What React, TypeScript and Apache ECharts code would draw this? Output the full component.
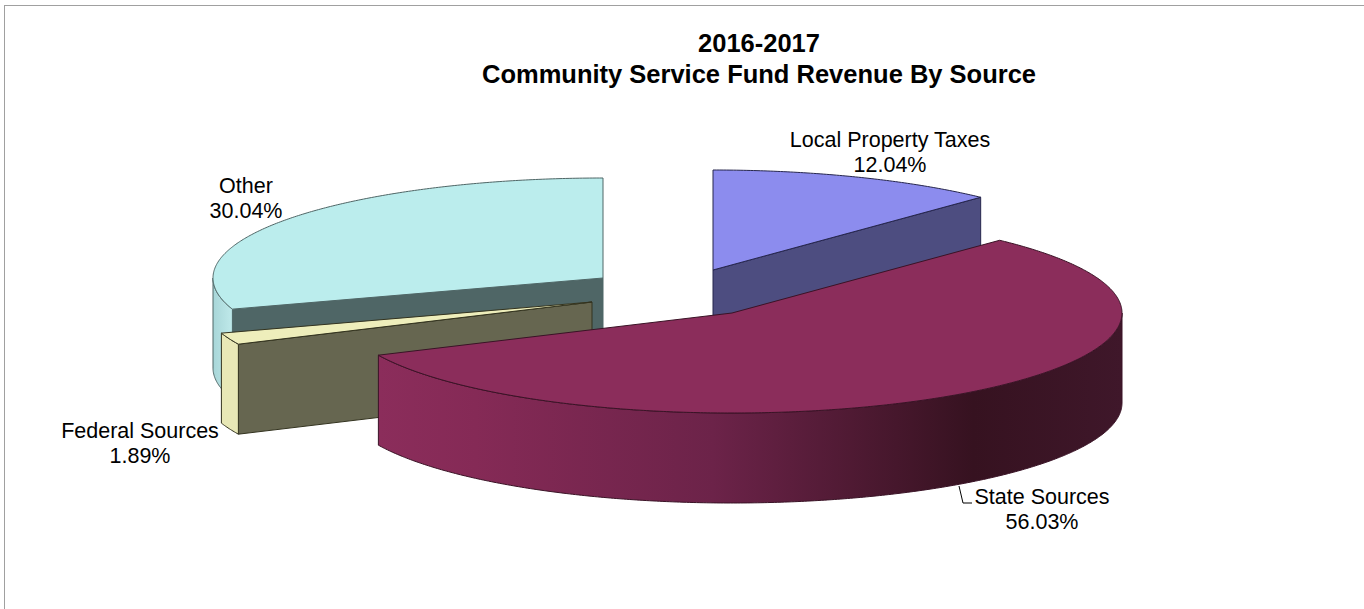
import React, { useEffect, useRef } from "react";
import * as echarts from "echarts";

const sliceNames = ["Local Property Taxes", "State Sources", "Federal Sources", "Other"];
const slicePercents = [12.04, 56.03, 1.89, 30.04];
const titleLines = ["2016-2017", "Community Service Fund Revenue By Source"];

// Painter's order for the exploded wedges, back to front.
const paintOrder = [3, 0, 2, 1];

// Ellipse and extrusion of the tilted pie.
const RX = 390;
const RY = 100;
const DEPTH = 90;

// Where each wedge's apex lands after it has been pulled away from the centre.
const apexes = [
  [713, 270],
  [732, 313],
  [592, 302],
  [603, 278],
];

const labelAnchors = [
  [890, 152],
  [1042, 509],
  [140, 443],
  [246, 198],
];

const palettes = [
  { top: "#8c8cee", cut: "#4d4d80", wall: [[0, "#4d4d80"]], line: "#26264d" },
  {
    top: "#8b2d5b",
    cut: "#5c1e3c",
    wall: [[0, "#8b2d5b"], [0.13, "#852a56"], [0.45, "#6c2349"], [0.8, "#361220"], [1, "#3f172a"]],
    line: "#3a1326",
  },
  { top: "#eeeebb", cut: "#666650", wall: [[0, "#e8e8b6"]], line: "#33331f" },
  { top: "#bbeded", cut: "#4f6666", wall: [[0, "#a8d6d8"], [1, "#bfe9ea"]], line: "#4f6666" },
];

const startAngles = slicePercents.map((_, i) =>
  slicePercents.slice(0, i).reduce((sum, p) => sum + (p / 100) * 360, 0),
);

const rad = (deg: number) => (deg * Math.PI) / 180;

function rimPoint(cx: number, cy: number, deg: number, drop = 0) {
  return [cx + RX * Math.sin(rad(deg)), cy - RY * Math.cos(rad(deg)) + drop];
}

function rimArc(cx: number, cy: number, from: number, to: number, drop = 0) {
  const steps = Math.max(2, Math.ceil(Math.abs(to - from) * 2));
  const pts: number[][] = [];
  for (let i = 0; i <= steps; i++) {
    pts.push(rimPoint(cx, cy, from + ((to - from) * i) / steps, drop));
  }
  return pts;
}

function renderSlice(_params: any, api: any) {
  const index = api.value(0) as number;
  const sweep = (slicePercents[index] / 100) * 360;
  const start = startAngles[index];
  const end = start + sweep;
  const [cx, cy] = apexes[index];
  const colors = palettes[index];
  const lineWidth = 1;
  const children: any[] = [];

  // Cut face on the clockwise side, visible while the edge points to the viewer's right.
  if (end < 90) {
    const corner = rimPoint(cx, cy, end);
    children.push({
      type: "polygon",
      shape: { points: [[cx, cy], corner, [corner[0], corner[1] + DEPTH], [cx, cy + DEPTH]] },
      style: { fill: colors.cut, stroke: colors.line, lineWidth },
    });
  }
  // Cut face on the counter-clockwise side, visible for wedges that start on the left.
  if (start > 180) {
    const corner = rimPoint(cx, cy, start);
    children.push({
      type: "polygon",
      shape: { points: [[cx, cy], corner, [corner[0], corner[1] + DEPTH], [cx, cy + DEPTH]] },
      style: { fill: colors.cut, stroke: colors.line, lineWidth },
    });
  }
  // Outer wall, only for the part of the rim that faces forward.
  const wallFrom = Math.max(start, 90);
  const wallTo = Math.min(end, 270);
  if (wallTo > wallFrom) {
    const stops = colors.wall.map(([offset, color]) => ({ offset, color }));
    children.push({
      type: "polygon",
      shape: {
        points: [
          ...rimArc(cx, cy, wallFrom, wallTo),
          ...rimArc(cx, cy, wallTo, wallFrom, DEPTH),
        ],
      },
      style: {
        fill: new echarts.graphic.LinearGradient(0, 0, 1, 0, stops as any),
        stroke: colors.line,
        lineWidth,
      },
    });
  }
  // Top face.
  children.push({
    type: "polygon",
    shape: { points: [[cx, cy], ...rimArc(cx, cy, start, end)] },
    style: { fill: colors.top, stroke: colors.line, lineWidth },
  });
  return { type: "group", children };
}

function renderLabel(_params: any, api: any) {
  const index = api.value(0) as number;
  const [x, y] = labelAnchors[index];
  return {
    type: "text",
    x,
    y,
    style: {
      text: `${sliceNames[index]}\n${slicePercents[index].toFixed(2)}%`,
      fill: "#000000",
      font: '21.5px "Liberation Sans", Arial, sans-serif',
      lineHeight: 25,
      align: "center",
      verticalAlign: "middle",
    },
  };
}

export default function App() {
  const ref = useRef<HTMLDivElement>(null);
  useEffect(() => {
    const chart = echarts.init(ref.current!, null, { renderer: "svg" });
    chart.setOption({
      animation: false,
      backgroundColor: "#ffffff",
      title: {
        text: titleLines.join("\n"),
        left: 754,
        top: 22,
        textAlign: "center",
        textStyle: {
          fontFamily: '"Liberation Sans", Arial, sans-serif',
          fontSize: 25.5,
          fontWeight: "bold",
          lineHeight: 31,
          color: "#000000",
        },
      },
      series: [
        {
          type: "custom",
          coordinateSystem: "none",
          renderItem: renderSlice,
          data: paintOrder.map((i) => [i]),
          silent: true,
        },
        {
          type: "custom",
          coordinateSystem: "none",
          renderItem: renderLabel,
          data: sliceNames.map((_, i) => [i]),
          silent: true,
          z: 3,
        },
      ],
      graphic: [
        {
          type: "line",
          shape: { x1: 4.5, y1: 5, x2: 4.5, y2: 609 },
          style: { stroke: "#a0a0a0", lineWidth: 1 },
        },
        {
          type: "line",
          shape: { x1: 4, y1: 5.5, x2: 1364, y2: 5.5 },
          style: { stroke: "#a0a0a0", lineWidth: 1 },
        },
        {
          type: "polyline",
          shape: { points: [[959, 486], [963, 503], [972, 503]] },
          style: { stroke: "#000000", lineWidth: 1, fill: "none" },
        },
      ],
    });
    return () => chart.dispose();
  }, []);
  return (
    <div
      ref={ref}
      style={{ position: "fixed", left: 0, top: 0, width: 1364, height: 609 }}
    />
  );
}
